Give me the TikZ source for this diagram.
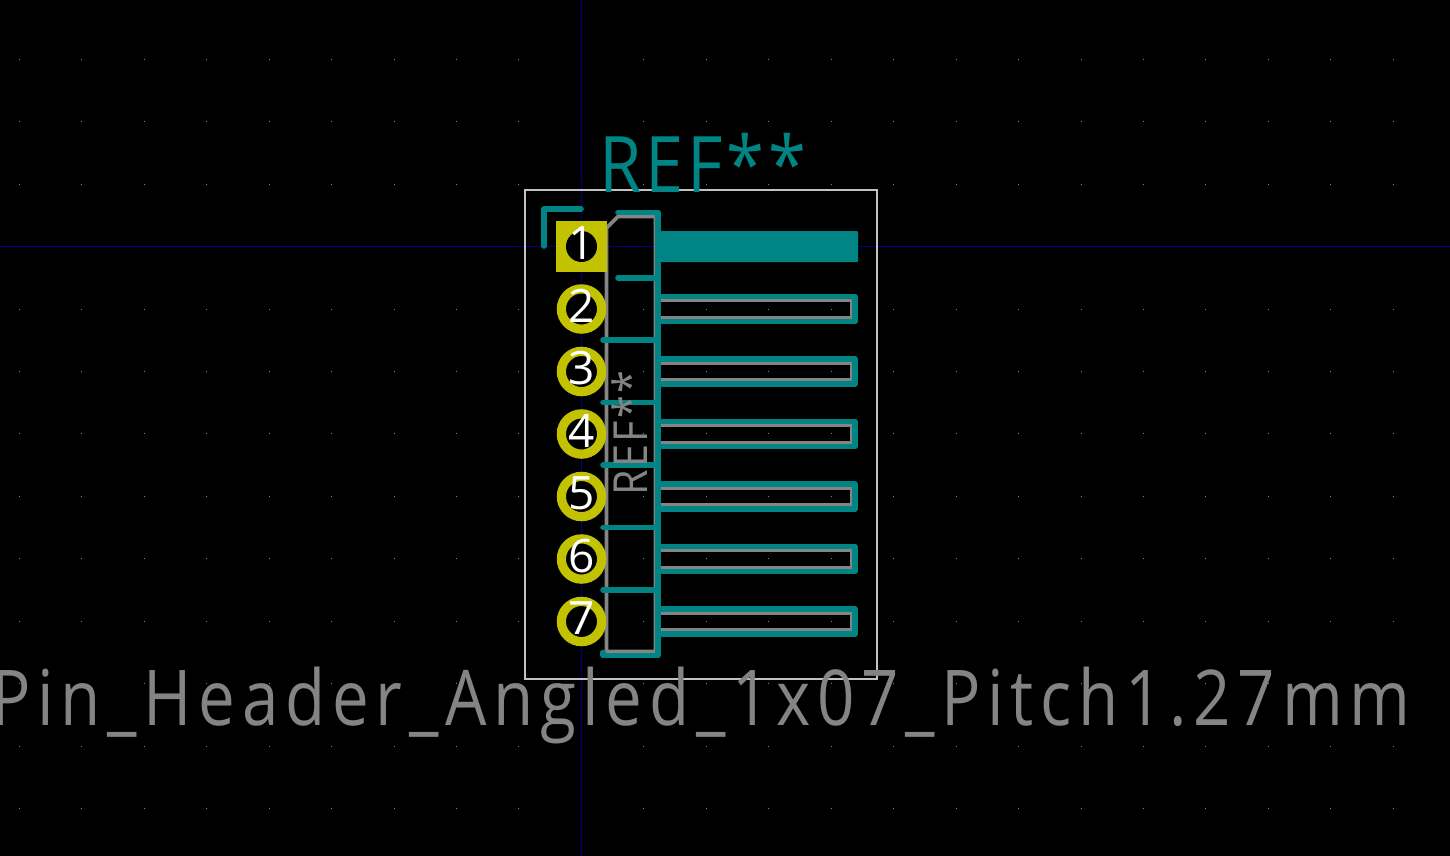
\documentclass[tikz,border=0pt]{standalone}
\usepackage{xcolor}
\usepackage{fontspec}
\usepackage{tikz}
\setmainfont{Open Sans}
\newfontfamily\valuefont[FakeStretch=0.85, LetterSpace=8.7]{Open Sans}
\newfontfamily\reffont[FakeStretch=0.88, LetterSpace=5]{Open Sans}
\definecolor{silkteal}{HTML}{008484}
\definecolor{fabgray}{HTML}{848484}
\definecolor{padyellow}{HTML}{C2C200}
\definecolor{courtgray}{HTML}{C2C2C2}
\definecolor{axisblue}{HTML}{000084}
\tikzset{
    silk/.style={draw=silkteal, line width=5.6pt, line cap=round, line join=round},
    fab/.style={draw=fabgray, line width=3.6pt, line join=miter},
    padnum/.style={text=white, inner sep=0pt, font=\fontsize{46}{46}\selectfont, yshift=3pt},
    padround/.style={circle, draw=padyellow, fill=black, line width=9.2pt, minimum size=40.3pt, inner sep=0pt, outer sep=0pt},
    padsquare/.style={rectangle, fill=padyellow, minimum size=51pt, inner sep=0pt, outer sep=0pt},
    padhole/.style={circle, fill=black, minimum size=31pt, inner sep=0pt, outer sep=0pt},
}
\begin{document}
\begin{tikzpicture}[x=1pt, y=-1pt]
    \useasboundingbox (0,0) rectangle (1450,856);
    \clip (0,0) rectangle (1450,856);
    \fill[black] (0,0) rectangle (1450,856);
    \foreach \i in {-9,...,13}
      \foreach \j in {-3,...,9}
        \fill[fabgray] ({581.4+62.45*\i-0.5},{246.6+62.45*\j-0.5}) rectangle ++(1,1);
    \draw[axisblue, line width=1pt] (0,246.5) -- (1450,246.5);
    \draw[axisblue, line width=1pt] (581.5,0) -- (581.5,856);

    \draw[courtgray, line width=2pt] (525.3,190.3) rectangle (877,679);

    \draw[fab] (606.5,228) -- (618,216.5) -- (655.5,216.5) -- (655.5,651.5) -- (606.5,651.5) -- cycle;
    \foreach \n in {2,...,7} {
      \pgfmathsetmacro{\py}{246.5+62.5*(\n-1)}
      \draw[fab] (655.5,\py-8.5) -- (851.5,\py-8.5) -- (851.5,\py+8.5) -- (655.5,\py+8.5);
    }

    \draw[silk] (544,246) -- (544,209) -- (581,209);
    \draw[silk] (618,212.5) -- (658,212.5) -- (658,655.5) -- (603,655.5) -- (603,652.5);
    \draw[silk] (618,277.7) -- (658,277.7);
    \foreach \y in {340,402.5,465,527.5,590}
      \draw[silk] (603,\y) -- (658,\y);
    \fill[silkteal, rounded corners=1pt] (658,231) rectangle (858,262);
    \foreach \n in {2,...,7} {
      \pgfmathsetmacro{\py}{246.5+62.5*(\n-1)}
      \draw[silk] (658,\py-12.5) -- (855,\py-12.5) -- (855,\py+12.5) -- (658,\py+12.5);
    }

    \node[padsquare] (pad1) at (581.5,246.5) {};
    \node[padhole] (hole1) at (pad1) {};
    \node[padnum] (num1) at (pad1) {1};
    \foreach \n in {2,...,7} {
      \pgfmathsetmacro{\py}{246.5+62.5*(\n-1)}
      \node[padround] (pad\n) at (581.5,\py) {};
      \node[padnum] (num\n) at (pad\n) {\n};
    }

    \node[text=silkteal, inner sep=0pt, font=\reffont\fontsize{78}{78}\selectfont] (refdes) at (703,163) {REF**};
    \node[text=fabgray, inner sep=0pt, rotate=90, font=\reffont\fontsize{47}{47}\selectfont] (reffab) at (630,433) {REF**};
    \node[text=fabgray, inner sep=0pt, font=\valuefont\fontsize{77}{77}\selectfont] (value) at (701,705) {Pin\_Header\_Angled\_1x07\_Pitch1.27mm};
\end{tikzpicture}
\end{document}
